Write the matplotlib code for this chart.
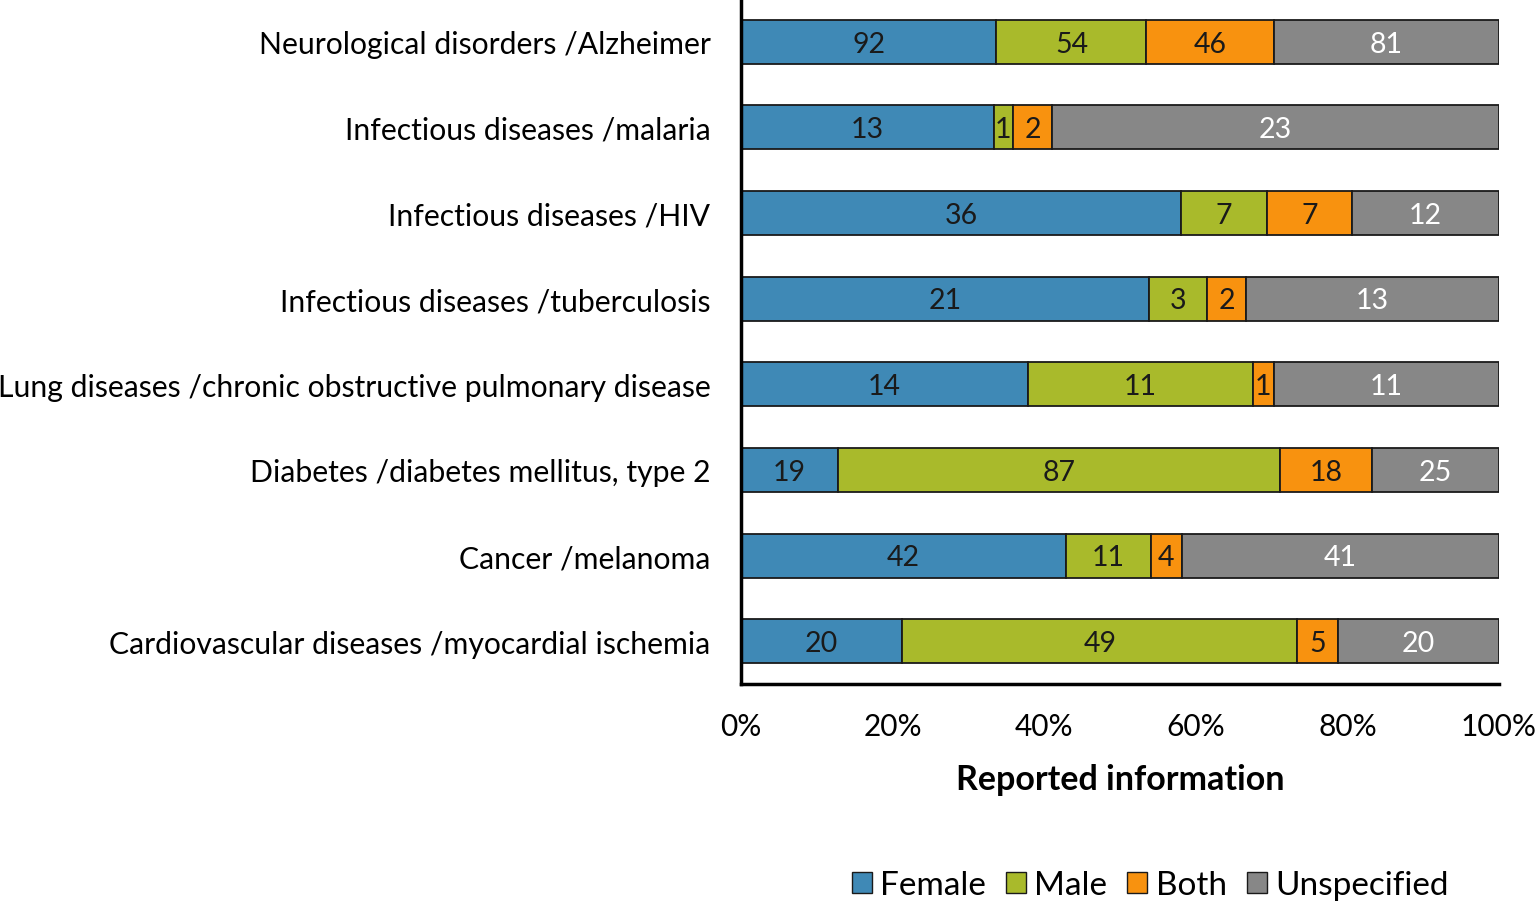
import numpy as np
import matplotlib.pyplot as plt
from matplotlib.patches import Patch

plt.rcParams['font.family'] = ['Lato', 'DejaVu Sans']

# Data
categories = ['Neurological disorders /Alzheimer',
              'Infectious diseases /malaria',
              'Infectious diseases /HIV',
              'Infectious diseases /tuberculosis',
              'Lung diseases /chronic obstructive pulmonary disease',
              'Diabetes /diabetes mellitus, type 2',
              'Cancer /melanoma',
              'Cardiovascular diseases /myocardial ischemia']
female = [92, 13, 36, 21, 14, 19, 42, 20]
male = [54, 1, 7, 3, 11, 87, 11, 49]
both = [46, 2, 7, 2, 1, 18, 4, 5]
unspecified = [81, 23, 12, 13, 11, 25, 41, 20]

series_names = ['Female', 'Male', 'Both', 'Unspecified']
colors = ['#3f89b6', '#a9ba2b', '#f8920f', '#878787']
text_colors = ['#1a1a1a', '#1a1a1a', '#1a1a1a', 'white']

counts = np.array([female, male, both, unspecified], dtype=float)
totals = counts.sum(axis=0)
shares = counts / totals

fig = plt.figure(figsize=(15.35, 9.04), dpi=100)
ax = fig.add_axes([741/1535, 1 - 685/904, (1499-741)/1535, 685/904])

y = np.arange(len(categories))
left = np.zeros(len(categories))
for i in range(4):
    bars = ax.barh(y, shares[i], left=left, height=0.515, color=colors[i],
                   edgecolor='#1a1a1a', linewidth=1.3)
    for j in range(len(categories)):
        ax.text(left[j] + shares[i][j] / 2, y[j] + 0.02, str(int(counts[i][j])),
                ha='center', va='center', fontsize=20.5, color=text_colors[i])
    left = left + shares[i]

ax.set_xlim(0, 1)
ax.set_ylim(len(categories) - 0.5, -0.5)
ax.set_yticks(y)
ax.set_yticklabels(categories, fontsize=21.7)
ax.set_xticks(np.linspace(0, 1, 6))
ax.set_xticklabels(['0%', '20%', '40%', '60%', '80%', '100%'], fontsize=21.5)
ax.tick_params(axis='both', length=0)
ax.tick_params(axis='y', pad=22)
ax.tick_params(axis='x', pad=20)
ax.spines['top'].set_visible(False)
ax.spines['right'].set_visible(False)
ax.spines['left'].set_linewidth(2.5)
ax.spines['bottom'].set_linewidth(2.5)
ax.set_xlabel('Reported information', fontsize=24.5, fontweight='bold', labelpad=17)

handles = [Patch(facecolor=colors[i], edgecolor='#1a1a1a', label=series_names[i]) for i in range(4)]
fig.legend(handles=handles, loc='center', bbox_to_anchor=(1150/1535, 1 - 886/904),
           ncol=4, frameon=False, fontsize=24, handlelength=0.6, handleheight=0.6,
           handletextpad=0.25, columnspacing=0.6)

plt.savefig('out.png', dpi=100)
